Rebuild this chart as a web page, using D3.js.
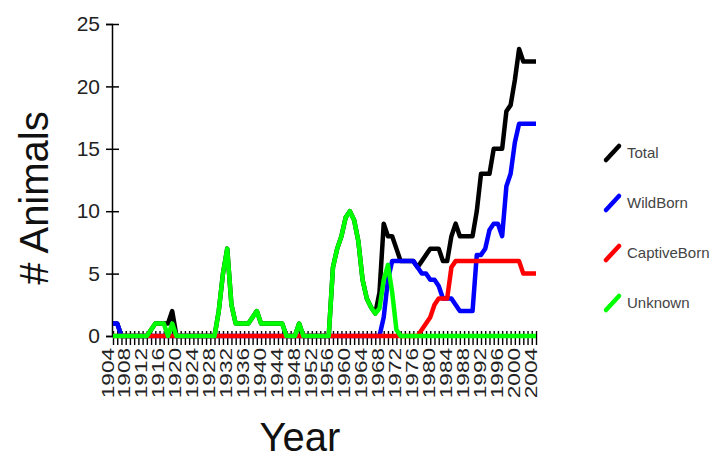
<!DOCTYPE html>
<html>
<head>
<meta charset="utf-8">
<script src="https://cdn.jsdelivr.net/npm/d3@7"></script>
<style>
  body { margin: 0; background: #fff; }
  svg { display: block; font-family: Arial, "Liberation Sans", sans-serif; }
</style>
</head>
<body>
<svg id="chart" width="725" height="458"></svg>
<script>
// one value per year, 1904..2004
const years = d3.range(1904, 2005);
const labelYears = d3.range(1904, 2005, 4);
const yTicks = [0, 5, 10, 15, 20, 25];

const total = [
  1, 1, 0, 0, 0, 0, 0, 0, 0,                 // 1904-1912
  0.5, 1, 1, 1, 1, 2, 0,                     // 1913-1919
  0, 0, 0, 0, 0, 0, 0, 0, 0,                 // 1920-1928
  2, 5, 7, 2.5, 1, 1, 1, 1, 1.5, 2, 1, 1, 1, 1, 1, 1, // 1929-1944
  0, 0, 0, 1, 0, 0, 0, 0, 0, 0, 0,           // 1945-1955
  5.5, 7, 8, 9.5, 10, 9.3, 7.6, 4.5, 3, 2.3, 1.8, 3.5, 9, 8, 8, 7, // 1956-1971
  6, 6, 6, 6, 5.5, 6, 6.5, 7, 7, 7, 6, 6, 8, 9, 8, 8, 8, 8, // 1972-1989
  10, 13, 13, 13, 15, 15, 15, 18, 18.5, 20.5, 23, 22, 22, 22, 22 // 1990-2004
];

const wildBorn = [
  1, 1,                                      // 1904-1905
  0, 0, 0, 0, 0, 0, 0, 0, 0, 0,              // 1906-1915
  0, 0, 0, 0, 0, 0, 0, 0, 0, 0,              // 1916-1925
  0, 0, 0, 0, 0, 0, 0, 0, 0, 0,              // 1926-1935
  0, 0, 0, 0, 0, 0, 0, 0, 0, 0,              // 1936-1945
  0, 0, 0, 0, 0, 0, 0, 0, 0, 0,              // 1946-1955
  0, 0, 0, 0, 0, 0, 0, 0, 0, 0, 0, 0,        // 1956-1967
  1.5, 4.5, 6, 6, 6, 6, 6, 6, 5.5, 5, 5, 4.5, 4.5, 4, 3, 3, 3, 2.5, 2, 2, 2, 2, // 1968-1989
  6.5, 6.5, 7, 8.5, 9, 9, 8, 12, 13, 15.5, 17, 17, 17, 17, 17 // 1990-2004
];

const captiveBorn = [
  0, 0, 0, 0, 0, 0, 0, 0, 0, 0,              // 1904-1913
  0, 0, 0, 0, 0, 0, 0, 0, 0, 0,              // 1914-1923
  0, 0, 0, 0, 0, 0, 0, 0, 0, 0,              // 1924-1933
  0, 0, 0, 0, 0, 0, 0, 0, 0, 0,              // 1934-1943
  0, 0, 0, 0, 0, 0, 0, 0, 0, 0,              // 1944-1953
  0, 0, 0, 0, 0, 0, 0, 0, 0, 0,              // 1954-1963
  0, 0, 0, 0, 0, 0, 0, 0, 0, 0, 0, 0, 0,     // 1964-1976
  0.5, 1, 1.5, 2.5, 3, 3, 3, 5.5, 6,         // 1977-1985
  6, 6, 6, 6, 6, 6, 6, 6, 6, 6, 6, 6, 6, 6, 6, // 1986-2000
  5, 5, 5, 5                                 // 2001-2004
];

const unknown = [
  0, 0, 0, 0, 0, 0, 0, 0, 0,                 // 1904-1912
  0.5, 1, 1, 1, 0, 1, 0,                     // 1913-1919
  0, 0, 0, 0, 0, 0, 0, 0, 0,                 // 1920-1928
  2, 5, 7, 2.5, 1, 1, 1, 1, 1.5, 2, 1, 1, 1, 1, 1, 1, // 1929-1944
  0, 0, 0, 1, 0, 0, 0, 0, 0, 0, 0,           // 1945-1955
  5.5, 7, 8, 9.5, 10, 9.3, 7.6, 4.5, 3, 2.3, 1.8, 2.2, 4.5, 5.7, 3.5, 0.5, // 1956-1971
  0, 0, 0, 0, 0, 0, 0, 0, 0, 0, 0,           // 1972-1982
  0, 0, 0, 0, 0, 0, 0, 0, 0, 0, 0,           // 1983-1993
  0, 0, 0, 0, 0, 0, 0, 0, 0, 0, 0            // 1994-2004
];

const seriesNames = ["Total", "WildBorn", "CaptiveBorn", "Unknown"];
const seriesColors = ["#000000", "#0000ff", "#ff0000", "#00ff00"];
const seriesValues = [total, wildBorn, captiveBorn, unknown];

const svg = d3.select("#chart");

const x = d3.scaleLinear().domain([1904, 2004]).range([113, 536]);
const y = d3.scaleLinear().domain([0, 25]).range([336, 24]);

// y axis
const yAxis = svg.append("g")
    .attr("transform", "translate(112,0)")
    .call(d3.axisLeft(y).tickValues(yTicks).tickSizeOuter(0).tickSize(6));
yAxis.select(".domain").attr("stroke", "#000").attr("stroke-width", 1.5);
yAxis.selectAll(".tick line").attr("x1", -6).attr("x2", 7).attr("stroke-width", 1.5);
yAxis.selectAll(".tick text")
    .attr("x", -12)
    .attr("font-size", 21)
    .attr("font-family", "Arial, 'Liberation Sans', sans-serif")
    .attr("fill", "#222");

// x axis, a tick for every year, a label every four
const xAxis = svg.append("g")
    .attr("transform", "translate(0,336)")
    .call(d3.axisBottom(x).tickValues(years).tickSizeOuter(0)
        .tickFormat(d => labelYears.includes(d) ? String(d) : ""));
xAxis.select(".domain").attr("stroke-width", 1.5);
xAxis.selectAll(".tick line").attr("y1", -5).attr("y2", 9).attr("stroke-width", 1.4);
xAxis.selectAll(".tick text")
    .attr("x", -9)
    .attr("y", 0)
    .attr("dy", 0)
    .attr("transform", "rotate(-90) scale(1.33,1)")
    .attr("text-anchor", "end")
    .attr("font-size", 17)
    .attr("font-family", "Arial, 'Liberation Sans', sans-serif")
    .attr("fill", "#222");

// series lines
const line = d3.line()
    .x((d, i) => x(years[i]))
    .y(d => y(d));

svg.append("g")
    .selectAll("path")
    .data(seriesValues)
    .join("path")
    .attr("d", line)
    .attr("fill", "none")
    .attr("stroke", (d, i) => seriesColors[i])
    .attr("stroke-width", 4.5)
    .attr("stroke-linejoin", "round");

// axis titles
svg.append("text")
    .attr("transform", "translate(48,198) rotate(-90)")
    .attr("text-anchor", "middle")
    .attr("font-size", 40)
    .attr("fill", "#111")
    .text("# Animals");

svg.append("text")
    .attr("x", 300)
    .attr("y", 451)
    .attr("text-anchor", "middle")
    .attr("font-size", 40)
    .attr("fill", "#111")
    .text("Year");

// legend
const legend = svg.append("g")
    .selectAll("g")
    .data(seriesNames)
    .join("g")
    .attr("transform", (d, i) => `translate(0,${152 + i * 50})`);

legend.append("line")
    .attr("x1", 606).attr("y1", 8)
    .attr("x2", 619).attr("y2", -6)
    .attr("stroke", (d, i) => seriesColors[i])
    .attr("stroke-width", 4.5)
    .attr("stroke-linecap", "round");

legend.append("text")
    .attr("x", 627)
    .attr("y", 5.5)
    .attr("font-size", 15)
    .attr("fill", "#444")
    .text(d => d);
</script>
</body>
</html>
